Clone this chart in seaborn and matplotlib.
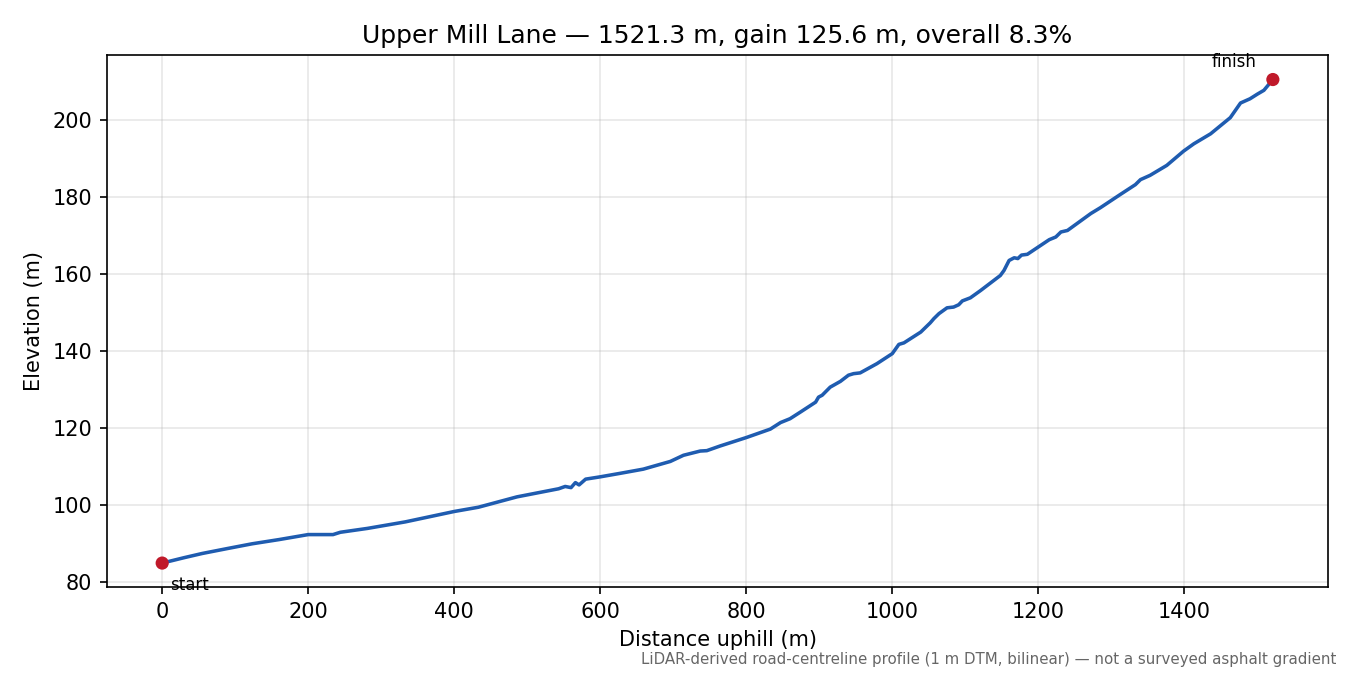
import pandas as pd
import seaborn as sns
import matplotlib.pyplot as plt

# profile (distance uphill in m, elevation in m)
distance = [0, 30, 55, 90, 123, 160, 200, 234, 244, 281, 333, 400, 433, 486,
            543, 552, 560, 566, 571, 580, 600, 627, 659, 696, 714, 737, 746,
            764, 800, 833, 847, 860, 874, 895, 899, 904, 915, 929, 940, 947,
            956, 979, 1000, 1009, 1016, 1039, 1052, 1057, 1064, 1075, 1084,
            1091, 1096, 1107, 1121, 1148, 1153, 1160, 1167, 1172, 1177, 1185,
            1200, 1215, 1224, 1231, 1240, 1272, 1285, 1312, 1333, 1340, 1353,
            1376, 1399, 1413, 1436, 1463, 1470, 1477, 1490, 1500, 1509, 1521.3]
elevation = [85.0, 86.4, 87.5, 88.8, 90.0, 91.1, 92.4, 92.4, 93.0, 94.0, 95.7,
             98.4, 99.5, 102.2, 104.3, 104.9, 104.6, 105.9, 105.3, 106.8,
             107.4, 108.3, 109.4, 111.4, 113.0, 114.1, 114.2, 115.4, 117.6,
             119.8, 121.5, 122.5, 124.2, 126.8, 128.1, 128.6, 130.7, 132.2,
             133.8, 134.2, 134.4, 136.8, 139.4, 141.8, 142.2, 145.0, 147.4,
             148.5, 149.8, 151.3, 151.5, 152.1, 153.1, 153.9, 155.8, 159.7,
             161.0, 163.6, 164.3, 164.1, 165.0, 165.2, 167.1, 169.0, 169.7,
             171.0, 171.4, 175.8, 177.3, 180.7, 183.3, 184.6, 185.7, 188.3,
             192.0, 193.9, 196.5, 200.7, 202.6, 204.5, 205.6, 206.8, 207.8,
             210.6]

road = "Upper Mill Lane"
length_m = 1521.3
gain_m = 125.6
overall_pct = 8.3
note = "LiDAR-derived road-centreline profile (1 m DTM, bilinear) \u2014 not a surveyed asphalt gradient"

profile = pd.DataFrame({"distance": distance, "elevation": elevation})
ends = profile.iloc[[0, -1]]

plt.rcParams["font.family"] = ["DejaVu Sans"]

fig, ax = plt.subplots(figsize=(9, 4.5), dpi=150)
fig.subplots_adjust(left=0.079, right=0.984, top=0.918, bottom=0.13)

sns.lineplot(data=profile, x="distance", y="elevation", ax=ax,
             color="#1f5cb0", linewidth=1.7, estimator=None, sort=False)
sns.scatterplot(data=ends, x="distance", y="elevation", ax=ax,
                color="#c0192a", s=40, edgecolor="none", zorder=5)

ax.annotate("start", (distance[0], elevation[0]), xytext=(4, -6),
            textcoords="offset points", ha="left", va="top", fontsize=8)
ax.annotate("finish", (distance[-1], elevation[-1]), xytext=(-8, 6),
            textcoords="offset points", ha="right", va="baseline", fontsize=8)

ax.grid(True, alpha=0.3)

ax.set_title(f"{road} \u2014 {length_m:.1f} m, gain {gain_m:.1f} m, overall {overall_pct:.1f}%",
             fontsize=12)
ax.set_xlabel("Distance uphill (m)", fontsize=10)
ax.set_ylabel("Elevation (m)", fontsize=10)

fig.text(0.99, 0.012, note, ha="right", va="bottom", fontsize=7.2, color="#666666")

fig.savefig("out.png", dpi=150)
